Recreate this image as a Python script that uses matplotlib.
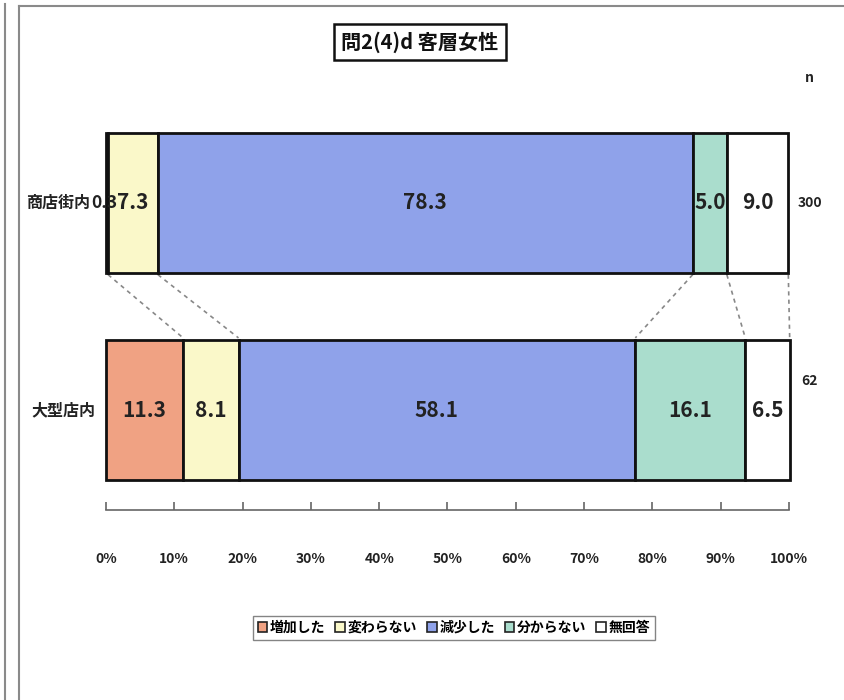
import matplotlib
matplotlib.use("Agg")
import matplotlib.pyplot as plt
from matplotlib.lines import Line2D
from matplotlib.patches import Patch
import numpy as np

plt.rcParams['font.family'] = ['Noto Sans CJK JP', 'DejaVu Sans']

title = "問2(4)d 客層女性"
categories = ["商店街内", "大型店内"]
sample_sizes = ["300", "62"]
series_names = ["増加した", "変わらない", "減少した", "分からない", "無回答"]
values = {
    "商店街内": [0.3, 7.3, 78.3, 5.0, 9.0],
    "大型店内": [11.3, 8.1, 58.1, 16.1, 6.5],
}
tick_values = [0, 10, 20, 30, 40, 50, 60, 70, 80, 90, 100]
tick_labels = [f"{v}%" for v in tick_values]

colors = ["#F0A283", "#FAF8C9", "#8FA2EA", "#AADDCD", "#FFFFFF"]

W, H = 845, 700
fig = plt.figure(figsize=(W / 100, H / 100), dpi=100)
fig.patch.set_facecolor("white")

# plot area: 0%..100% spans px 106..789, axis line at px 510
ax = fig.add_axes([106 / W, (H - 510) / H, 683 / W, 390 / H])
bar_h = 0.675
ax.set_xlim(0, 100)
ax.set_ylim(1.482, -0.398)

cum = {}
for i, cat in enumerate(categories):
    left = 0.0
    bounds = [0.0]
    for j, v in enumerate(values[cat]):
        ax.barh(i, v, left=left, height=bar_h, color=colors[j],
                edgecolor="#111111", linewidth=2.0, zorder=3, clip_on=False)
        if v < 2:
            # too thin for a centred label: set it just left of the next one
            ax.text(left + v + 1.3, i, f"{v:.1f}", ha="right", va="center",
                    fontsize=12.5, fontweight="bold", color="#222222",
                    zorder=4)
        else:
            ax.text(left + v / 2, i, f"{v:.1f}", ha="center", va="center",
                    fontsize=15, fontweight="bold", color="#222222",
                    zorder=4)
        left += v
        bounds.append(left)
    cum[cat] = bounds
    lab_x = -2.4 if values[cat][0] < 2 else -1.6
    ax.text(lab_x, i, cat, ha="right", va="center", fontsize=11.5,
            fontweight="bold", color="#222222")

# series lines joining segment boundaries of the two bars
top, bot = cum[categories[0]], cum[categories[1]]
for k in range(1, len(top)):
    ax.plot([top[k], bot[k]], [0 + bar_h / 2 + 0.01, 1 - bar_h / 2 - 0.01],
            color="#888888", linestyle=(0, (2.5, 2.5)), linewidth=1.2,
            zorder=2, clip_on=False)

# sample sizes
ax.text(103, -0.6, "n", ha="center", va="center", fontsize=10,
        fontweight="bold", color="#222222")
ax.text(103, 0.0, sample_sizes[0], ha="center", va="center", fontsize=10,
        fontweight="bold", color="#222222")
ax.text(103, 0.86, sample_sizes[1], ha="center", va="center", fontsize=10,
        fontweight="bold", color="#222222")

for s in ["top", "right", "left"]:
    ax.spines[s].set_visible(False)
ax.spines["bottom"].set_color("#666666")
ax.spines["bottom"].set_linewidth(1.2)
ax.set_yticks([])
ax.set_xticks(tick_values)
ax.set_xticklabels(tick_labels, fontsize=10, fontweight="bold",
                   color="#222222")
ax.tick_params(axis="x", direction="in", length=6, width=1.2,
               color="#666666", pad=30)
ax.set_facecolor("none")

# title box
fig.text(420 / W, 1 - 42 / H, title, ha="center", va="center",
         fontsize=14.5, fontweight="bold", color="#111111",
         bbox=dict(boxstyle="square,pad=0.35", facecolor="white",
                   edgecolor="#111111", linewidth=1.8))

# legend
handles = [Patch(facecolor=c, edgecolor="#222222", linewidth=1.2)
           for c in colors]
leg = fig.legend(handles, series_names, loc="center",
                 bbox_to_anchor=(454 / W, 1 - 628 / H), ncol=5,
                 frameon=True, fancybox=False, edgecolor="#666666",
                 handlelength=0.7, handleheight=0.7, handletextpad=0.2,
                 columnspacing=0.7, borderpad=0.35,
                 prop=dict(size=10, weight="bold"))
leg.get_frame().set_linewidth(1.0)

# page frame lines
frame_col = "#8a8a8a"
fig.add_artist(Line2D([5 / W, 5 / W], [0, 1 - 4 / H], color=frame_col,
                      linewidth=1.5, transform=fig.transFigure))
fig.add_artist(Line2D([19 / W, 19 / W], [0, 1 - 6 / H], color=frame_col,
                      linewidth=1.5, transform=fig.transFigure))
fig.add_artist(Line2D([19 / W, 1], [1 - 6 / H, 1 - 6 / H], color=frame_col,
                      linewidth=1.5, transform=fig.transFigure))

fig.savefig("out.png", dpi=100)
